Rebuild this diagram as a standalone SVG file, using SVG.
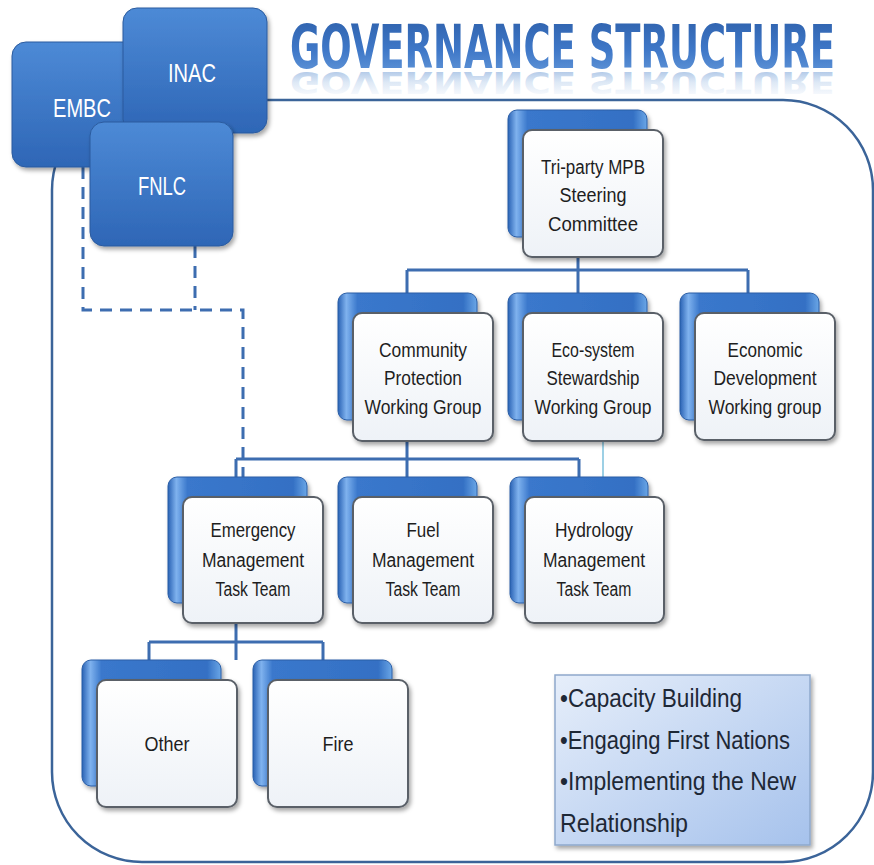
<svg xmlns="http://www.w3.org/2000/svg" width="874" height="865" viewBox="0 0 874 865">
<defs>
  <linearGradient id="gBlue" x1="0" y1="0" x2="0" y2="1">
    <stop offset="0" stop-color="#4d8ad6"/>
    <stop offset="1" stop-color="#2e66b6"/>
  </linearGradient>
  <linearGradient id="gBack" x1="0" y1="0" x2="1" y2="0">
    <stop offset="0" stop-color="#2a62b4"/>
    <stop offset="0.06" stop-color="#7fb2ee"/>
    <stop offset="0.14" stop-color="#3a78cc"/>
    <stop offset="0.9" stop-color="#3470c4"/>
    <stop offset="1" stop-color="#6aa6e6"/>
  </linearGradient>
  <linearGradient id="gFront" x1="0" y1="0" x2="0" y2="1">
    <stop offset="0" stop-color="#ffffff"/>
    <stop offset="1" stop-color="#eef2f7"/>
  </linearGradient>
  <linearGradient id="gTitle" x1="0" y1="0" x2="0" y2="1">
    <stop offset="0" stop-color="#2c5ea8"/>
    <stop offset="0.55" stop-color="#3f78c8"/>
    <stop offset="1" stop-color="#6b9edc"/>
  </linearGradient>
  <linearGradient id="gRefl" x1="0" y1="0" x2="0" y2="1">
    <stop offset="0" stop-color="#9ab9e2" stop-opacity="0"/>
    <stop offset="0.5" stop-color="#8fb3e0" stop-opacity="0.3"/>
    <stop offset="1" stop-color="#6f9ad2" stop-opacity="0.75"/>
  </linearGradient>
  <linearGradient id="gNote" x1="0" y1="0" x2="1" y2="1">
    <stop offset="0" stop-color="#e6eefa"/>
    <stop offset="1" stop-color="#a6c2ec"/>
  </linearGradient>
  <filter id="sh" x="-10%" y="-10%" width="130%" height="130%">
    <feDropShadow dx="2" dy="3" stdDeviation="2" flood-color="#000" flood-opacity="0.35"/>
  </filter>
</defs>
<style>
  .frame { fill: none; stroke: #3b6499; stroke-width: 2.5; }
  .org { fill: url(#gBlue); stroke: #2b5b9e; stroke-width: 1; filter: url(#sh); }
  .orgt { font-family: "Liberation Sans", Arial, sans-serif; font-size: 25px; fill: #ffffff; text-anchor: middle; }
  .back { fill: url(#gBack); stroke: #2a5ea6; stroke-width: 1; filter: url(#sh); }
  .front { fill: url(#gFront); stroke: #5a6068; stroke-width: 2; filter: url(#sh); }
  .nt { font-family: "Liberation Sans", Arial, sans-serif; font-size: 20px; fill: #1e1e1e; text-anchor: middle; }
  .conn { fill: none; stroke: #3d6db0; stroke-width: 3; }
  .thin { fill: none; stroke: #7cc0dc; stroke-width: 1.5; }
  .dash { fill: none; stroke: #3d6db0; stroke-width: 3; stroke-dasharray: 12 8; }
  .note { fill: url(#gNote); stroke: #8ea8cc; stroke-width: 1.5; filter: url(#sh); }
  .nott { font-family: "Liberation Sans", Arial, sans-serif; font-size: 25px; fill: #1e2836; }
  .title { font-family: "DejaVu Sans Condensed", "Liberation Sans", sans-serif; font-size: 60px; font-weight: bold; }
</style>

<rect class="frame" x="52" y="100" width="821" height="762" rx="90" ry="90"/>

<g id="title">
  <text class="title" x="290" y="68" textLength="545" lengthAdjust="spacingAndGlyphs" fill="url(#gTitle)">GOVERNANCE STRUCTURE</text>
  <text class="title" x="290" y="68" textLength="545" lengthAdjust="spacingAndGlyphs" fill="url(#gRefl)" transform="translate(0,106) scale(1,-0.5)">GOVERNANCE STRUCTURE</text>
</g>

<g id="connectors">
  <path class="dash" d="M83,167 V310 H243 V477"/>
  <path class="dash" d="M195,246 V310"/>
  <path class="conn" d="M578,237 V293 M407,270 H748 M407,270 V293 M748,270 V293"/>
  <path class="conn" d="M407,442 V477 M236,459 H579 M236,459 V477 M579,459 V477"/>
  <path class="thin" d="M603,441 V477"/>
  <path class="conn" d="M236,623 V660 M149,642 H323 M149,642 V660 M323,642 V660"/>
</g>

<g id="embc">
  <rect class="org" x="12" y="42" width="125" height="125" rx="14"/>
  <text class="orgt" x="82" y="117" textLength="58" lengthAdjust="spacingAndGlyphs">EMBC</text>
</g>
<g id="inac">
  <rect class="org" x="123" y="8" width="144" height="125" rx="14"/>
  <text class="orgt" x="192" y="82" textLength="48" lengthAdjust="spacingAndGlyphs">INAC</text>
</g>
<g id="fnlc">
  <rect class="org" x="90" y="122" width="143" height="124" rx="14"/>
  <text class="orgt" x="162" y="195" textLength="48" lengthAdjust="spacingAndGlyphs">FNLC</text>
</g>

<g id="tri-party">
  <rect class="back" x="508" y="110" width="139" height="127" rx="9"/>
  <rect class="front" x="523" y="130" width="140" height="127" rx="9"/>
  <text class="nt" x="593" y="174" textLength="104" lengthAdjust="spacingAndGlyphs">Tri-party MPB</text>
  <text class="nt" x="593" y="202" textLength="67" lengthAdjust="spacingAndGlyphs">Steering</text>
  <text class="nt" x="593" y="231" textLength="90" lengthAdjust="spacingAndGlyphs">Committee</text>
</g>

<g id="community">
  <rect class="back" x="338" y="293" width="139" height="127" rx="9"/>
  <rect class="front" x="353" y="313" width="140" height="128" rx="9"/>
  <text class="nt" x="423" y="357" textLength="88" lengthAdjust="spacingAndGlyphs">Community</text>
  <text class="nt" x="423" y="385" textLength="78" lengthAdjust="spacingAndGlyphs">Protection</text>
  <text class="nt" x="423" y="414" textLength="117" lengthAdjust="spacingAndGlyphs">Working Group</text>
</g>

<g id="ecosystem">
  <rect class="back" x="508" y="293" width="139" height="127" rx="9"/>
  <rect class="front" x="523" y="313" width="140" height="128" rx="9"/>
  <text class="nt" x="593" y="357" textLength="83" lengthAdjust="spacingAndGlyphs">Eco-system</text>
  <text class="nt" x="593" y="385" textLength="93" lengthAdjust="spacingAndGlyphs">Stewardship</text>
  <text class="nt" x="593" y="414" textLength="117" lengthAdjust="spacingAndGlyphs">Working Group</text>
</g>

<g id="economic">
  <rect class="back" x="680" y="293" width="139" height="127" rx="9"/>
  <rect class="front" x="695" y="313" width="140" height="127" rx="9"/>
  <text class="nt" x="765" y="357" textLength="75" lengthAdjust="spacingAndGlyphs">Economic</text>
  <text class="nt" x="765" y="385" textLength="103" lengthAdjust="spacingAndGlyphs">Development</text>
  <text class="nt" x="765" y="414" textLength="113" lengthAdjust="spacingAndGlyphs">Working group</text>
</g>

<g id="emergency">
  <rect class="back" x="168" y="477" width="139" height="126" rx="9"/>
  <rect class="front" x="183" y="497" width="140" height="126" rx="9"/>
  <text class="nt" x="253" y="537" textLength="85" lengthAdjust="spacingAndGlyphs">Emergency</text>
  <text class="nt" x="253" y="567" textLength="102" lengthAdjust="spacingAndGlyphs">Management</text>
  <text class="nt" x="253" y="596" textLength="75" lengthAdjust="spacingAndGlyphs">Task Team</text>
</g>

<g id="fuel">
  <rect class="back" x="338" y="477" width="139" height="126" rx="9"/>
  <rect class="front" x="353" y="497" width="140" height="126" rx="9"/>
  <text class="nt" x="423" y="537" textLength="33" lengthAdjust="spacingAndGlyphs">Fuel</text>
  <text class="nt" x="423" y="567" textLength="102" lengthAdjust="spacingAndGlyphs">Management</text>
  <text class="nt" x="423" y="596" textLength="75" lengthAdjust="spacingAndGlyphs">Task Team</text>
</g>

<g id="hydrology">
  <rect class="back" x="510" y="477" width="138" height="126" rx="9"/>
  <rect class="front" x="525" y="497" width="139" height="126" rx="9"/>
  <text class="nt" x="594" y="537" textLength="78" lengthAdjust="spacingAndGlyphs">Hydrology</text>
  <text class="nt" x="594" y="567" textLength="102" lengthAdjust="spacingAndGlyphs">Management</text>
  <text class="nt" x="594" y="596" textLength="75" lengthAdjust="spacingAndGlyphs">Task Team</text>
</g>

<g id="other">
  <rect class="back" x="82" y="660" width="139" height="126" rx="9"/>
  <rect class="front" x="97" y="680" width="140" height="127" rx="9"/>
  <text class="nt" x="167" y="751" textLength="45" lengthAdjust="spacingAndGlyphs">Other</text>
</g>

<g id="fire">
  <rect class="back" x="253" y="660" width="139" height="126" rx="9"/>
  <rect class="front" x="268" y="680" width="140" height="127" rx="9"/>
  <text class="nt" x="338" y="751" textLength="31" lengthAdjust="spacingAndGlyphs">Fire</text>
</g>

<g id="goals">
  <rect class="note" x="555" y="675" width="255" height="170"/>
  <text class="nott" x="560" y="707" textLength="182" lengthAdjust="spacingAndGlyphs">•Capacity Building</text>
  <text class="nott" x="560" y="749" textLength="230" lengthAdjust="spacingAndGlyphs">•Engaging First Nations</text>
  <text class="nott" x="560" y="790" textLength="236" lengthAdjust="spacingAndGlyphs">•Implementing the New</text>
  <text class="nott" x="560" y="832" textLength="128" lengthAdjust="spacingAndGlyphs">Relationship</text>
</g>
</svg>
